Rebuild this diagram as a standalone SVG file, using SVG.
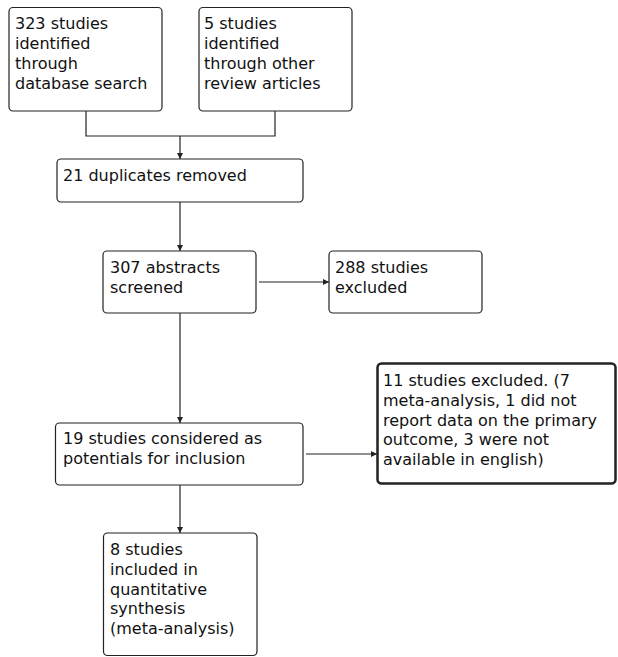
<svg xmlns="http://www.w3.org/2000/svg" width="618" height="657" viewBox="0 0 618 657">
<style>
.box{fill:#fff;stroke:#222;stroke-width:1.2}
.thick{stroke-width:2.5}
text{font-family:"DejaVu Sans","Liberation Sans",sans-serif;font-size:16px;fill:#111}
.c{fill:none;stroke:#222;stroke-width:1.2}
</style>
<defs>
<marker id="ah" viewBox="0 0 10 10" refX="10" refY="5" markerWidth="6" markerHeight="6" markerUnits="userSpaceOnUse" orient="auto">
<path d="M0,0 L10,5 L0,10 z" fill="#222"/>
</marker>
</defs>
<rect width="618" height="657" fill="#fff"/>
<g id="connectors">
<path class="c" d="M86,111 V136 H275 V111"/>
<path class="c" d="M180,136 V159" marker-end="url(#ah)"/>
<path class="c" d="M180,202 V251" marker-end="url(#ah)"/>
<path class="c" d="M259,282 H329" marker-end="url(#ah)"/>
<path class="c" d="M180,313 V423" marker-end="url(#ah)"/>
<path class="c" d="M306,454 H377" marker-end="url(#ah)"/>
<path class="c" d="M180,485 V533" marker-end="url(#ah)"/>
</g>
<g id="n1">
<rect class="box" x="9" y="7.5" width="153" height="103.5" rx="4"/>
<text x="15" y="29">323 studies</text>
<text x="15" y="49">identified</text>
<text x="15" y="69">through</text>
<text x="15" y="89">database search</text>
</g>
<g id="n2">
<rect class="box" x="199" y="7.5" width="153" height="103.5" rx="4"/>
<text x="204" y="29">5 studies</text>
<text x="204" y="49">identified</text>
<text x="204" y="69">through other</text>
<text x="204" y="89">review articles</text>
</g>
<g id="n3">
<rect class="box" x="57" y="159" width="246" height="43" rx="4"/>
<text x="63" y="181">21 duplicates removed</text>
</g>
<g id="n4">
<rect class="box" x="103" y="251" width="153" height="62" rx="4"/>
<text x="110" y="273">307 abstracts</text>
<text x="110" y="293">screened</text>
</g>
<g id="n5">
<rect class="box" x="329" y="251" width="153" height="62" rx="4"/>
<text x="335" y="273">288 studies</text>
<text x="335" y="293">excluded</text>
</g>
<g id="n6">
<rect class="box" x="55.5" y="423" width="247.5" height="62" rx="4"/>
<text x="63" y="444">19 studies considered as</text>
<text x="63" y="464">potentials for inclusion</text>
</g>
<g id="n7">
<rect class="box thick" x="377.5" y="363.5" width="238" height="120" rx="4"/>
<text x="383" y="386">11 studies excluded. (7</text>
<text x="383" y="406">meta-analysis, 1 did not</text>
<text x="383" y="426">report data on the primary</text>
<text x="383" y="445">outcome, 3 were not</text>
<text x="383" y="465">available in english)</text>
</g>
<g id="n8">
<rect class="box" x="103.5" y="533" width="153.5" height="122.5" rx="4"/>
<text x="110" y="555">8 studies</text>
<text x="110" y="575">included in</text>
<text x="110" y="595">quantitative</text>
<text x="110" y="614">synthesis</text>
<text x="110" y="634">(meta-analysis)</text>
</g>
</svg>
